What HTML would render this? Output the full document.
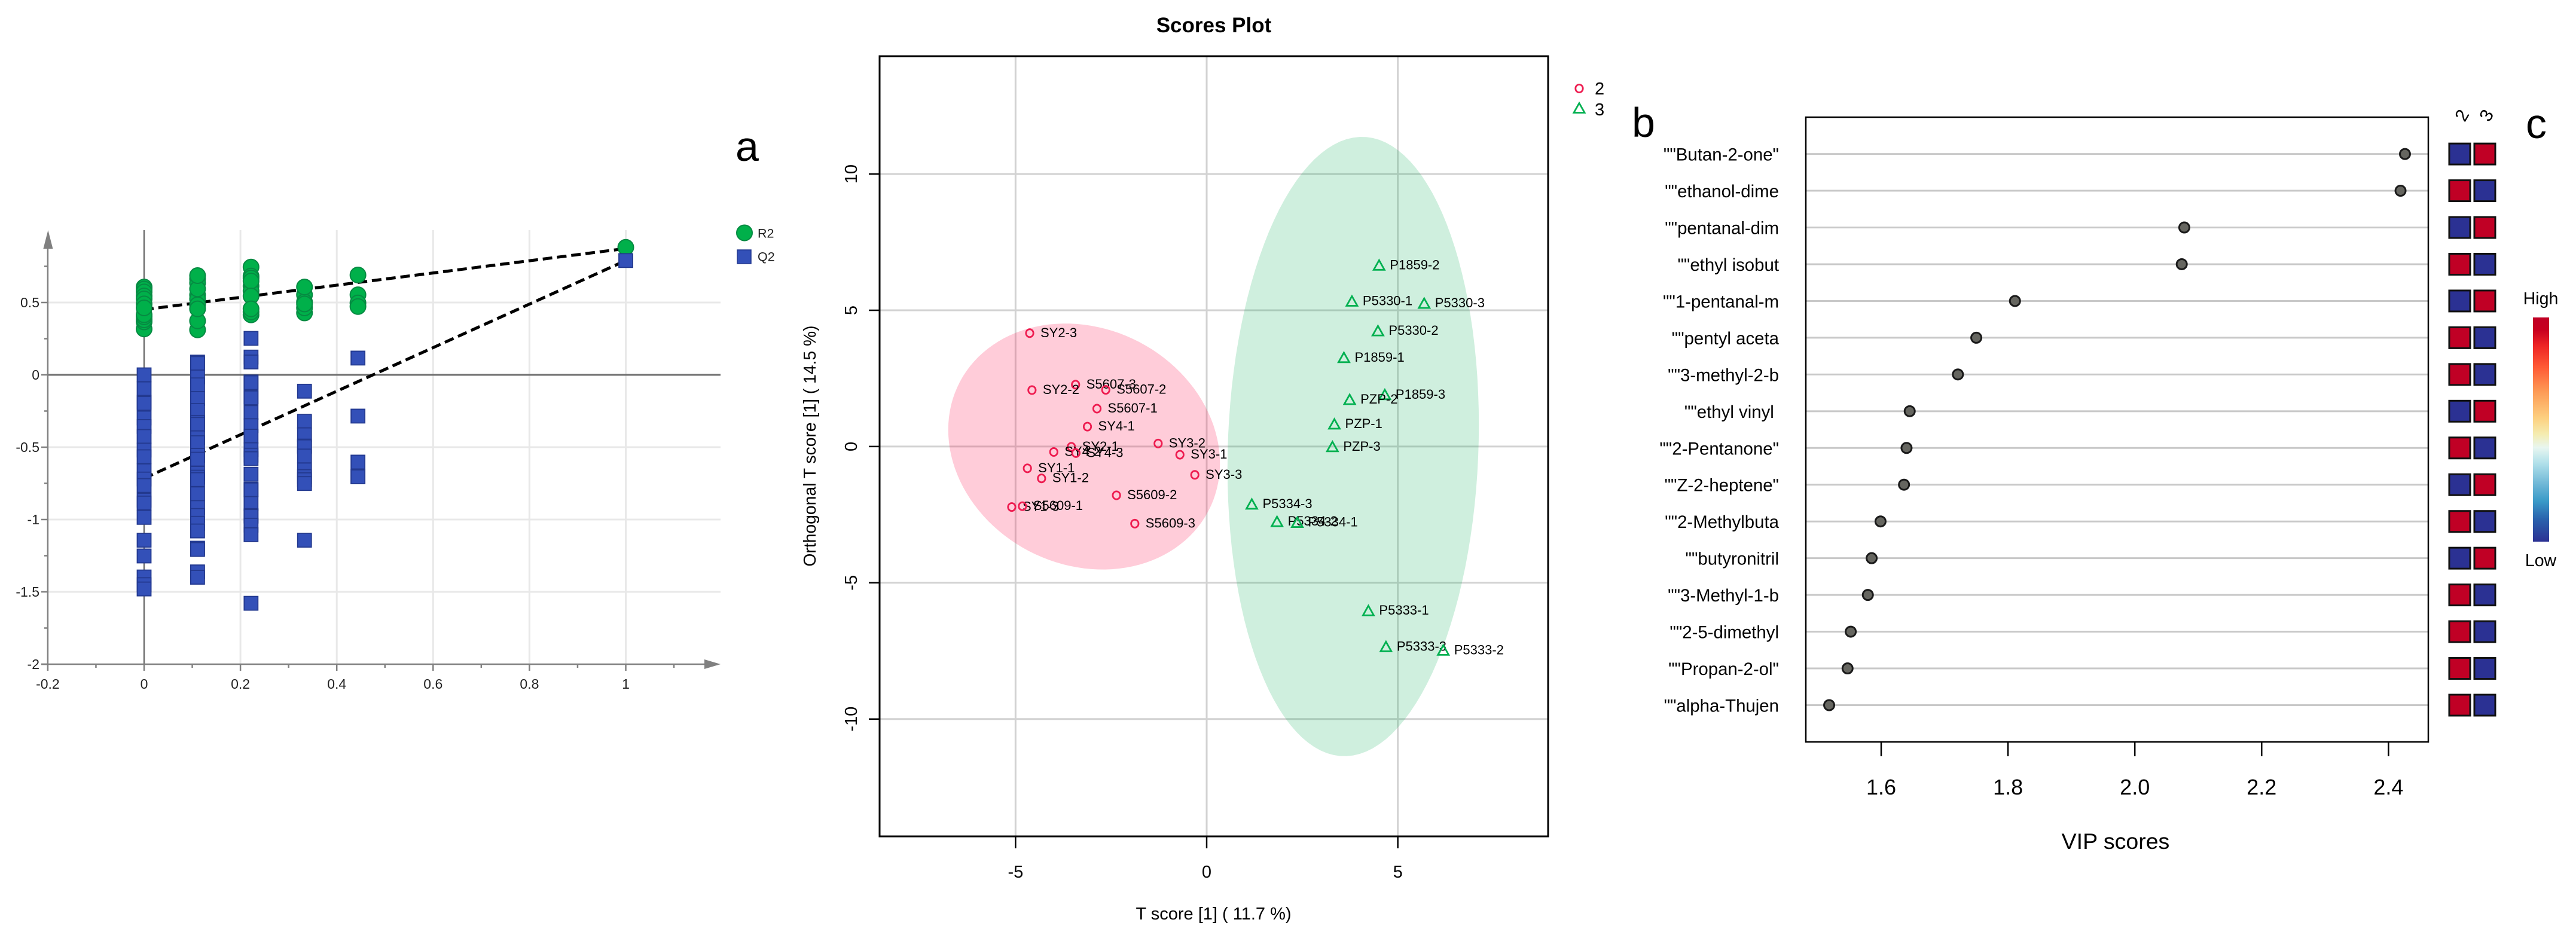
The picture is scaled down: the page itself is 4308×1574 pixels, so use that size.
<!DOCTYPE html>
<html lang="en">
<head>
<meta charset="utf-8">
<title>Scores Plot panels</title>
<style>
html,body{margin:0;padding:0;background:#fff;}
svg{display:block;}
text{font-family:"Liberation Sans",Arial,sans-serif;fill:#000;}
</style>
</head>
<body>
<svg id="figure" xmlns="http://www.w3.org/2000/svg" width="4308" height="1574" viewBox="0 0 4308 1574">
<defs>
<linearGradient id="heatGrad" x1="0" y1="0" x2="0" y2="1">
<stop offset="0" stop-color="#c00025"/>
<stop offset="0.056" stop-color="#c8001f"/>
<stop offset="0.127" stop-color="#ee2525"/>
<stop offset="0.222" stop-color="#ff5a35"/>
<stop offset="0.33" stop-color="#fd9a55"/>
<stop offset="0.449" stop-color="#fdd080"/>
<stop offset="0.52" stop-color="#f5ecb0"/>
<stop offset="0.58" stop-color="#e8f6f0"/>
<stop offset="0.651" stop-color="#b0e0ea"/>
<stop offset="0.747" stop-color="#6cb6d6"/>
<stop offset="0.819" stop-color="#3a9ac8"/>
<stop offset="0.90" stop-color="#2a62ad"/>
<stop offset="1" stop-color="#2b3193"/>
</linearGradient>
</defs>
<rect x="0" y="0" width="4308" height="1574" fill="#ffffff"/>
<g id="permPlot"></g>
<g id="scoresPlot"></g>
<g id="vipPlot"></g>
<text x="1230" y="269" font-size="70">a</text>
<text x="2729" y="229" font-size="70">b</text>
<text x="4224" y="231" font-size="70">c</text>
<text x="2030" y="54" font-size="35" font-weight="bold" text-anchor="middle">Scores Plot</text>
<text x="2029.5" y="1538" font-size="29" text-anchor="middle">T score [1] ( 11.7 %)</text>
<text transform="translate(1364,746) rotate(-90)" font-size="28.3" text-anchor="middle">Orthogonal T score [1] ( 14.5 %)</text>
<text x="3538" y="1420" font-size="37.5" text-anchor="middle">VIP scores</text>
<rect x="4236" y="531" width="27" height="375" fill="url(#heatGrad)"/>
<text x="4249" y="509" font-size="28.5" text-anchor="middle">High</text>
<text x="4249" y="947" font-size="28.5" text-anchor="middle">Low</text>
</svg>
<script>
// ---------- Permutation plot data ----------
const permCorr = [0, 0.111, 0.222, 0.333, 0.444, 1];
const r2Values = [
  [0.317, 0.366, 0.380, 0.401, 0.415, 0.607, 0.593, 0.573, 0.545, 0.525, 0.490, 0.463],
  [0.663, 0.635, 0.552, 0.525, 0.484, 0.311, 0.373, 0.456, 0.594, 0.686],
  [0.415, 0.435, 0.745, 0.683, 0.669, 0.614, 0.580, 0.648, 0.545, 0.456],
  [0.428, 0.463, 0.553, 0.504, 0.607, 0.490],
  [0.690, 0.553, 0.497, 0.472],
  [0.881]
];
const q2Values = [
  [0, -0.096, -0.19, -0.197, -0.298, -0.357, -0.426, -0.52, -0.566, -0.663, -0.72, -0.765, -0.866, -0.886, -0.985, -1.143, -1.252, -1.397, -1.45, -1.48],
  [0.088, 0.079, -0.0145, -0.069, -0.163, -0.246, -0.328, -0.342, -0.435, -0.469, -0.556, -0.583, -0.68, -0.707, -0.724, -0.822, -0.917, -0.972, -1.026, -1.079, -1.198, -1.207, -1.362, -1.399],
  [0.252, 0.123, 0.089, -0.049, -0.054, -0.152, -0.159, -0.26, -0.351, -0.424, -0.517, -0.555, -0.579, -0.687, -0.79, -0.795, -0.889, -0.972, -0.978, -1.039, -1.105, -1.579],
  [-0.113, -0.321, -0.414, -0.492, -0.497, -0.561, -0.657, -0.703, -0.725, -0.751, -1.143],
  [0.116, -0.285, -0.603, -0.703, -0.705],
  [0.79]
];
const trendX = [0, 1];
const r2Trend = [0.451, 0.873];
const q2Trend = [-0.715, 0.79];
const permXTicks = [-0.2, 0, 0.2, 0.4, 0.6, 0.8, 1];
const permXTickLabels = ['-0.2', '0', '0.2', '0.4', '0.6', '0.8', '1'];
const permXMinor = [-0.1, 0.1, 0.3, 0.5, 0.7, 0.9, 1.1];
const permYTicks = [0.5, 0, -0.5, -1, -1.5, -2];
const permYTickLabels = ['0.5', '0', '-0.5', '-1', '-1.5', '-2'];
const permYMinor = [0.75, 0.25, -0.25, -0.75, -1.25, -1.75];

// ---------- Scores plot data ----------
const group2Names = ['SY1-3','S5609-1','SY2-3','S5607-3','SY2-2','S5607-2','S5607-1','SY4-1','SY2-1','SY4-2','SY4-3','SY3-2','SY3-1','SY3-3','SY1-1','SY1-2','S5609-2','S5609-3'];
const group2T = [-5.10,-4.82,-4.63,-3.43,-4.57,-2.64,-2.87,-3.12,-3.54,-4.00,-3.42,-1.27,-0.70,-0.31,-4.69,-4.32,-2.36,-1.88];
const group2O = [-2.22,-2.19,4.16,2.27,2.07,2.08,1.39,0.73,-0.01,-0.20,-0.24,0.11,-0.30,-1.04,-0.80,-1.17,-1.79,-2.83];
const group3Names = ['P1859-2','P5330-1','P5330-3','P5330-2','P1859-1','P1859-3','PZP-2','PZP-1','PZP-3','P5334-3','P5334-2','P5334-1','P5333-1','P5333-3','P5333-2'];
const group3T = [4.51,3.80,5.69,4.48,3.59,4.66,3.74,3.34,3.29,1.18,1.84,2.37,4.23,4.69,6.19];
const group3O = [6.65,5.33,5.25,4.24,3.26,1.90,1.72,0.82,-0.01,-2.12,-2.76,-2.79,-6.03,-7.35,-7.48];
const ellipse2Center = [-3.207, 0];
const ellipse2Cov = [12.63, -2.188, 20.37];
const ellipse3Center = [3.832, 0];
const ellipse3Cov = [10.81, 2.613, 129.16];
const scoresXTicks = [-5, 0, 5];
const scoresYTicks = [-10, -5, 0, 5, 10];

// ---------- VIP plot data ----------
const vipNames = ['""Butan-2-one"','""ethanol-dime','""pentanal-dim','""ethyl isobut','""1-pentanal-m','""pentyl aceta','""3-methyl-2-b','""ethyl vinyl ','""2-Pentanone"','""Z-2-heptene"','""2-Methylbuta','""butyronitril','""3-Methyl-1-b','""2-5-dimethyl','""Propan-2-ol"','""alpha-Thujen'];
const vipValues = [2.426,2.419,2.078,2.074,1.811,1.75,1.721,1.645,1.64,1.636,1.599,1.585,1.579,1.552,1.547,1.518];
const heatGroup2 = [0,1,0,1,0,1,1,0,1,0,1,0,1,1,1,1];
const heatGroup3 = [1,0,1,0,1,0,0,1,0,1,0,1,0,0,0,0];
const heatHeaders = ['2','3'];
const vipTicks = [1.6, 1.8, 2.0, 2.2, 2.4];
const vipTickLabels = ['1.6','1.8','2.0','2.2','2.4'];

// ---------- helpers ----------
const NS = 'http://www.w3.org/2000/svg';
function mk(tag, parent, attrs, txt) {
  const e = document.createElementNS(NS, tag);
  for (const k in attrs) e.setAttribute(k, attrs[k]);
  if (txt !== undefined) e.textContent = txt;
  parent.appendChild(e);
  return e;
}
function line(parent, x1, y1, x2, y2, stroke, w) {
  return mk('line', parent, {x1: x1, y1: y1, x2: x2, y2: y2, stroke: stroke, 'stroke-width': w});
}

// ---------- Permutation plot ----------
(function () {
  const root = document.getElementById('permPlot');
  const px = v => 241 + 805.5 * v;
  const py = v => 627 - 242 * v;
  const axisColor = '#808080';
  let n;
  permXTicks.forEach(t => {
    if (t === -0.2) return;
    n = line(root, px(t), 385, px(t), 1111, t === 0 ? '#707070' : '#e8e8e8', t === 0 ? 2.5 : 3);
    
    
  });
  permYTicks.forEach(t => {
    if (t === -2) return;
    n = line(root, 80, py(t), 1205, py(t), t === 0 ? '#707070' : '#e8e8e8', 3);
    
    
  });
  n = line(root, px(-0.2), 400, px(-0.2), 1111, axisColor, 2.5);
  
  
  n = line(root, 69, py(-2), 1190, py(-2), axisColor, 2.5);
  
  
  n = mk('polygon', root, {points: '80.4,385 72.4,416 88.4,416', fill: axisColor});
  
  
  n = mk('polygon', root, {points: '1205,1111 1178,1103 1178,1119', fill: axisColor});
  
  
  permXTicks.forEach((t, i) => {
    n = line(root, px(t), 1111, px(t), 1122, axisColor, 2.5);
    
    
    n = mk('text', root, {x: px(t), y: 1152, 'font-size': 23, 'text-anchor': 'middle', style: 'fill:#222'}, permXTickLabels[i]);
    
    
  });
  permXMinor.forEach(t => {
    n = line(root, px(t), 1111, px(t), 1117, axisColor, 2.5);
    
    
  });
  permYTicks.forEach((t, i) => {
    n = line(root, 69, py(t), 80, py(t), axisColor, 2.5);
    
    
    n = mk('text', root, {x: 66, y: py(t) + 8, 'font-size': 23, 'text-anchor': 'end', style: 'fill:#222'}, permYTickLabels[i]);
    
    
  });
  permYMinor.forEach(t => {
    n = line(root, 74, py(t), 80, py(t), axisColor, 2.5);
    
    
  });
  n = mk('line', root, {x1: px(trendX[0]), y1: py(r2Trend[0]), x2: px(trendX[1]), y2: py(r2Trend[1]), stroke: '#000', 'stroke-width': 5, 'stroke-dasharray': '16 8'});
  
  
  n = mk('line', root, {x1: px(trendX[0]), y1: py(q2Trend[0]), x2: px(trendX[1]), y2: py(q2Trend[1]), stroke: '#000', 'stroke-width': 5, 'stroke-dasharray': '16 8'});
  
  
  r2Values.forEach((col, c) => {
    col.forEach(v => {
      n = mk('circle', root, {cx: px(permCorr[c]), cy: py(v), r: 13, fill: '#00b04a', stroke: '#068a42', 'stroke-width': 2});
      
      
    });
  });
  q2Values.forEach((col, c) => {
    col.forEach(v => {
      n = mk('rect', root, {x: px(permCorr[c]) - 11.5, y: py(v) - 11.5, width: 23, height: 23, fill: '#3350b8', stroke: '#23398f', 'stroke-width': 1.8});
      
      
    });
  });
  n = mk('circle', root, {cx: 1245, cy: 389.5, r: 13, fill: '#00b04a', stroke: '#068a42', 'stroke-width': 2});
  
  
  n = mk('text', root, {x: 1267, y: 397.5, 'font-size': 21.5, style: 'fill:#222'}, 'R2');
  
  
  n = mk('rect', root, {x: 1233, y: 418, width: 23, height: 23, fill: '#3350b8', stroke: '#23398f', 'stroke-width': 1.5});
  
  
  n = mk('text', root, {x: 1267, y: 436.5, 'font-size': 21.5, style: 'fill:#222'}, 'Q2');
  
  
})();

// ---------- Scores plot ----------
(function () {
  const root = document.getElementById('scoresPlot');
  const sx = v => 2018 + 63.93 * v;
  const sy = v => 746.9 - 45.58 * v;
  const RED = '#ee1c50', GREEN = '#00b050';
  let n;
  scoresXTicks.forEach(t => {
    n = line(root, sx(t), 94, sx(t), 1399, '#d2d2d2', 3);
    
    
  });
  scoresYTicks.forEach(t => {
    n = line(root, 1471, sy(t), 2589, sy(t), '#d2d2d2', 3);
    
    
  });
  function ellipsePath(center, cov) {
    const L11 = Math.sqrt(cov[0]);
    const L21 = cov[1] / L11;
    const L22 = Math.sqrt(cov[2] - L21 * L21);
    let d = '';
    for (let i = 0; i < 120; i++) {
      const t = i / 120 * 2 * Math.PI;
      const dx = L11 * Math.cos(t);
      const dy = L21 * Math.cos(t) + L22 * Math.sin(t);
      d += (i ? 'L' : 'M') + sx(center[0] + dx).toFixed(1) + ' ' + sy(center[1] + dy).toFixed(1);
    }
    return d + 'Z';
  }
  n = mk('path', root, {d: ellipsePath(ellipse2Center, ellipse2Cov), fill: '#ff0040', 'fill-opacity': 0.2});
  
  
  n = mk('path', root, {d: ellipsePath(ellipse3Center, ellipse3Cov), fill: '#00aa50', 'fill-opacity': 0.19});
  
  
  n = mk('rect', root, {x: 1471, y: 94, width: 1118, height: 1305, fill: 'none', stroke: '#000', 'stroke-width': 3});
  
  
  scoresXTicks.forEach(t => {
    n = line(root, sx(t), 1399, sx(t), 1419, '#000', 2.5);
    
    
    n = mk('text', root, {x: sx(t), y: 1468, 'font-size': 29, 'text-anchor': 'middle'}, String(t));
    
    
  });
  scoresYTicks.forEach(t => {
    n = line(root, 1453, sy(t), 1471, sy(t), '#000', 2.5);
    
    
    n = mk('text', root, {transform: 'translate(1433,' + sy(t) + ') rotate(-90)', 'font-size': 29, 'text-anchor': 'middle'}, String(t));
    
    
  });
  function tri(cx, cy) {
    return cx + ',' + (cy - 8.5) + ' ' + (cx - 9) + ',' + (cy + 7.5) + ' ' + (cx + 9) + ',' + (cy + 7.5);
  }
  group2T.forEach((v, i) => {
    n = mk('ellipse', root, {cx: sx(v), cy: sy(group2O[i]), rx: 6.2, ry: 6.6, fill: 'none', stroke: RED, 'stroke-width': 2.8});
    
    
    n = mk('text', root, {x: sx(v) + 18, y: sy(group2O[i]) + 6.5, 'font-size': 22}, group2Names[i]);
    
    
  });
  group3T.forEach((v, i) => {
    n = mk('polygon', root, {points: tri(sx(v), sy(group3O[i])), fill: 'none', stroke: GREEN, 'stroke-width': 2.8});
    
    
    n = mk('text', root, {x: sx(v) + 18, y: sy(group3O[i]) + 6.5, 'font-size': 22}, group3Names[i]);
    
    
  });
  n = mk('ellipse', root, {cx: 2641, cy: 148, rx: 6.2, ry: 6.6, fill: 'none', stroke: RED, 'stroke-width': 2.8});
  
  
  n = mk('text', root, {x: 2667, y: 158, 'font-size': 29}, '2');
  
  
  n = mk('polygon', root, {points: tri(2641, 181), fill: 'none', stroke: GREEN, 'stroke-width': 2.8});
  
  
  n = mk('text', root, {x: 2667, y: 193, 'font-size': 29}, '3');
  
  
})();

// ---------- VIP plot ----------
(function () {
  const root = document.getElementById('vipPlot');
  const vx = v => 3146 + 1060.5 * (v - 1.6);
  const rowY = i => 257.6 + 61.46 * i;
  const BLUE = '#2b3193', RED = '#c00025';
  let n;
  vipNames.forEach((name, i) => {
    n = line(root, 3020, rowY(i), 4061, rowY(i), '#c8c8c8', 3);
    
    
  });
  n = mk('rect', root, {x: 3020, y: 196, width: 1041, height: 1045, fill: 'none', stroke: '#000', 'stroke-width': 2.5});
  
  
  vipNames.forEach((name, i) => {
    n = mk('text', root, {x: 2975, y: rowY(i) + 11, 'font-size': 29.4, 'text-anchor': 'end', style: 'white-space:pre'}, name);
    
    
    n = mk('circle', root, {cx: vx(vipValues[i]), cy: rowY(i), r: 8.5, fill: '#666660', stroke: '#1a1a1a', 'stroke-width': 3});
    
    
    n = mk('rect', root, {x: 4096, y: rowY(i) - 17.5, width: 35, height: 35, fill: heatGroup2[i] ? RED : BLUE, stroke: '#111', 'stroke-width': 3});
    
    
    n = mk('rect', root, {x: 4138, y: rowY(i) - 17.5, width: 35, height: 35, fill: heatGroup3[i] ? RED : BLUE, stroke: '#111', 'stroke-width': 3});
    
    
  });
  vipTicks.forEach((t, i) => {
    n = line(root, vx(t), 1241, vx(t), 1265, '#000', 2.5);
    
    
    n = mk('text', root, {x: vx(t), y: 1329, 'font-size': 36, 'text-anchor': 'middle'}, vipTickLabels[i]);
    
    
  });
  heatHeaders.forEach((h, i) => {
    n = mk('text', root, {transform: 'translate(' + (4126 + 41 * i) + ',198) rotate(-60)', 'font-size': 30, 'text-anchor': 'middle'}, h);
    
    
  });
})();
</script>
</body>
</html>
